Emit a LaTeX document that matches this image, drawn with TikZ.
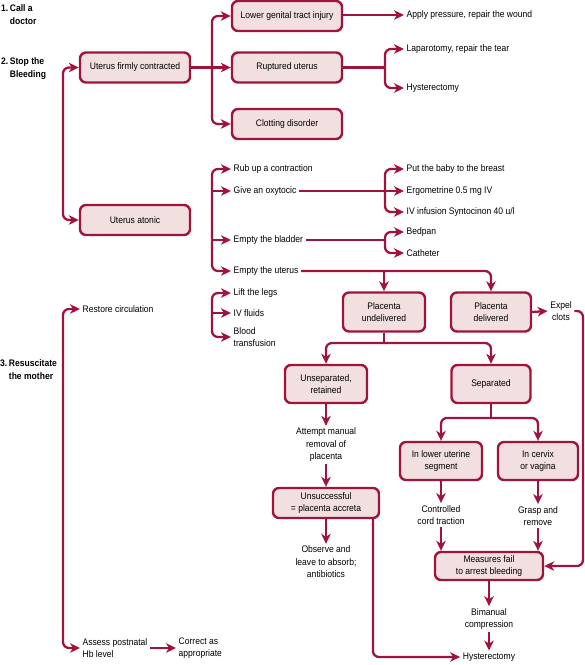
\documentclass[tikz,border=0pt]{standalone}
\usepackage{fontspec}
\setmainfont{Liberation Sans}[FakeStretch=0.9]
\usetikzlibrary{arrows.meta}
\definecolor{crim}{RGB}{160,20,60}
\definecolor{pinkfill}{RGB}{242,224,224}
\newcommand{\fsz}{\fontsize{9.5}{12.5}\selectfont}
\tikzset{
  box/.style={draw=crim, fill=pinkfill, line width=2.4pt, rounded corners=6pt, align=center, inner sep=1pt, font=\fsz},
  txt/.style={inner xsep=2.5pt, inner ysep=1pt, align=left, font=\fsz},
  ctxt/.style={inner xsep=2.5pt, inner ysep=2pt, align=center, font=\fsz},
  lab/.style={inner sep=0pt, align=left, font=\fsz\bfseries},
  con/.style={draw=crim, line width=2.3pt, rounded corners=6pt},
  arr/.style={con, -{Stealth[length=10pt,width=9.5pt,inset=3pt]}}
}
\begin{document}
\begin{tikzpicture}[x=1pt,y=-1pt]
\useasboundingbox (0,0) rectangle (585,665);

% step labels
\node[lab, anchor=north west] (l1) at (1,3) {\begin{tabular}{@{}l@{\,}l@{}}1. & Call a\\ & doctor\end{tabular}};
\node[lab, anchor=north west] (l2) at (1,56) {\begin{tabular}{@{}l@{\,}l@{}}2. & Stop the\\ & Bleeding\end{tabular}};
\node[lab, anchor=north west] (l3) at (0,358) {\begin{tabular}{@{}l@{\,}l@{}}3. & Resuscitate\\ & the mother\end{tabular}};

% boxes
\node[box, minimum width=110pt, minimum height=30pt] (ufc) at (135,67.5) {Uterus firmly contracted};
\node[box, minimum width=110pt, minimum height=30pt] (ua) at (135,220) {Uterus atonic};
\node[box, minimum width=110pt, minimum height=30pt] (lgi) at (287,16) {Lower genital tract injury};
\node[box, minimum width=110pt, minimum height=30pt] (ru) at (287,67.5) {Ruptured uterus};
\node[box, minimum width=110pt, minimum height=30pt] (cd) at (287,124) {Clotting disorder};
\node[box, minimum width=82pt, minimum height=39pt] (pu) at (384,312) {Placenta\\undelivered};
\node[box, minimum width=80pt, minimum height=39pt] (pd) at (491,312) {Placenta\\delivered};
\node[box, minimum width=82pt, minimum height=38pt] (us) at (326,384) {Unseparated,\\retained};
\node[box, minimum width=79pt, minimum height=38pt] (sep) at (491,384) {Separated};
\node[box, minimum width=106pt, minimum height=30pt] (uns) at (326,503) {Unsuccessful\\= placenta accreta};
\node[box, minimum width=82pt, minimum height=38pt] (lus) at (441,461) {In lower uterine\\segment};
\node[box, minimum width=80pt, minimum height=38pt] (civ) at (538,461) {In cervix\\or vagina};
\node[box, minimum width=108pt, minimum height=28pt] (mf) at (489,566) {Measures fail\\to arrest bleeding};

% texts
\node[txt, anchor=west] (apply) at (404,15) {Apply pressure, repair the wound};
\node[txt, anchor=west] (lap) at (404,49) {Laparotomy, repair the tear};
\node[txt, anchor=west] (hy1) at (404,88) {Hysterectomy};
\node[txt, anchor=west] (rub) at (231,169) {Rub up a contraction};
\node[txt, anchor=west] (oxy) at (231,191) {Give an oxytocic};
\node[txt, anchor=west] (bla) at (231,240) {Empty the bladder};
\node[txt, anchor=west] (emp) at (231,271) {Empty the uterus};
\node[txt, anchor=west] (baby) at (404,169) {Put the baby to the breast};
\node[txt, anchor=west] (ergo) at (404,191) {Ergometrine 0.5 mg IV};
\node[txt, anchor=west] (ivi) at (404,212) {IV infusion Syntocinon 40 u/l};
\node[txt, anchor=west] (bed) at (404,232) {Bedpan};
\node[txt, anchor=west] (cat) at (404,253) {Catheter};
\node[txt, anchor=west] (lift) at (231,293) {Lift the legs};
\node[txt, anchor=west] (ivf) at (231,313) {IV fluids};
\node[txt, anchor=west] (blood) at (231,337) {Blood\\transfusion};
\node[txt, anchor=west] (rest) at (80,309) {Restore circulation};
\node[txt, anchor=west] (ass) at (80,648) {Assess postnatal\\Hb level};
\node[txt, anchor=west] (corr) at (176,648) {Correct as\\appropriate};
\node[ctxt] (expel) at (561,311) {Expel\\clots};
\node[ctxt] (amr) at (326,445) {Attempt manual\\removal of\\placenta};
\node[ctxt] (cct) at (441,515) {Controlled\\cord traction};
\node[ctxt] (gr) at (538,516) {Grasp and\\remove};
\node[ctxt] (obs) at (326,562) {Observe and\\leave to absorb;\\antibiotics};
\node[ctxt] (bim) at (489,619) {Bimanual\\compression};
\node[ctxt] (hy2) at (489,657) {Hysterectomy};

% branch coordinates
\coordinate (sp1) at (63,144);
\coordinate (sp2) at (63,478);
\coordinate (b1) at (212,67.5);
\coordinate (b2) at (385,67.5);
\coordinate (b3) at (212,220);
\coordinate (b4) at (385,191);
\coordinate (b5) at (385,240);
\coordinate (b6) at (212,315);
\coordinate (j1) at (384,343);
\coordinate (j2) at (491,418);
\coordinate (rc) at (583,440);
\coordinate (hc) at (373,600);

% left spines
\draw[arr] (sp1) |- (ufc.west);
\draw[arr] (sp1) |- (ua.west);
\draw[arr] (sp2) |- (rest.west);
\draw[arr] (sp2) |- (ass.west);
\draw[arr] (ass.east) -- (corr.west);

% contracted uterus
\draw[arr] (ufc.east) -- (ru.west);
\draw[arr] (b1) |- (lgi.west);
\draw[arr] (b1) |- (cd.west);
\draw[arr] (lgi.east |- apply.west) -- (apply.west);
\draw[con] (ru.east) -- (b2);
\draw[arr] (b2) |- (lap.west);
\draw[arr] (b2) |- (hy1.west);

% atonic uterus
\draw[arr] (b3) |- (rub.west);
\draw[arr] (b3 |- oxy.west) -- (oxy.west);
\draw[arr] (b3 |- bla.west) -- (bla.west);
\draw[arr] (b3) |- (emp.west);
\draw[arr] (oxy.east) -- (ergo.west);
\draw[arr] (b4) |- (baby.west);
\draw[arr] (b4) |- (ivi.west);
\draw[con] (bla.east) -- (b5);
\draw[arr] (b5) |- (bed.west);
\draw[arr] (b5) |- (cat.west);
\draw[arr] (emp.east) -| (pd.north);
\draw[arr] (emp.east -| pu.north) -- (pu.north);

% resuscitation branch
\draw[arr] (b6) |- (lift.west);
\draw[arr] (b6 |- ivf.west) -- (ivf.west);
\draw[arr] (b6) |- (blood.west);

% placenta
\draw[arr] (pd.east) -- (expel.west);
\draw[arr] (expel.east) -| (rc) |- (mf.east);
\draw[con] (pu.south) -- (j1);
\draw[arr] (j1) -| (us.north);
\draw[arr] (j1) -| (sep.north);
\draw[arr] (us.south) -- (amr.north);
\draw[arr] (amr.south) -- (uns.north);
\draw[arr] (uns.south) -- (obs.north);
\draw[arr] (uns.south -| hc) |- (hy2.west);
\draw[con] (sep.south) -- (j2);
\draw[arr] (j2) -| (lus.north);
\draw[arr] (j2) -| (civ.north);
\draw[arr] (lus.south) -- (cct.north);
\draw[arr] (civ.south) -- (gr.north);
\draw[arr] (cct.south) -- (cct.south |- mf.north);
\draw[arr] (gr.south) -- (gr.south |- mf.north);
\draw[arr] (mf.south) -- (bim.north);
\draw[arr] (bim.south) -- (hy2.north);
\end{tikzpicture}
\end{document}
